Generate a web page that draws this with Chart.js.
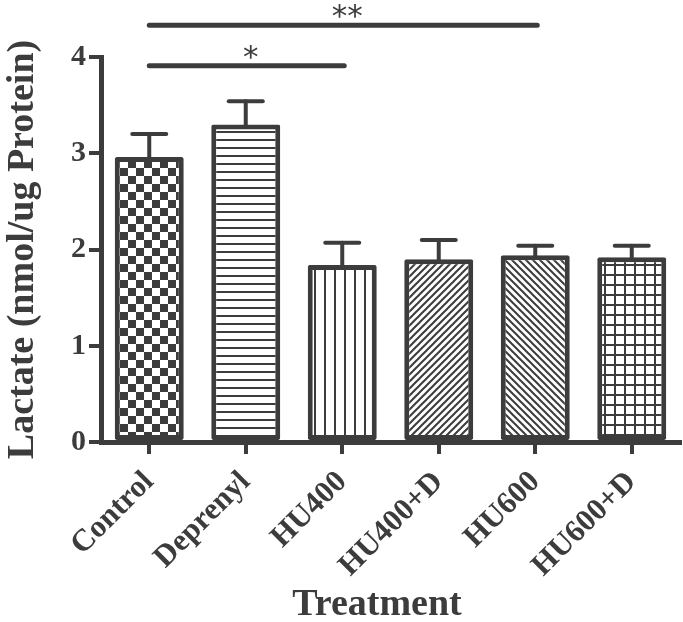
<!DOCTYPE html>
<html><head><meta charset="utf-8">
<script src="https://cdn.jsdelivr.net/npm/chart.js@4.4.0/dist/chart.umd.min.js"></script>
<style>html,body{margin:0;padding:0;background:#fff}canvas{display:block}</style>
</head><body><canvas id="c" width="683" height="622"></canvas>
<script>
// ---- data ----
const categories = ['Control', 'Deprenyl', 'HU400', 'HU400+D', 'HU600', 'HU600+D'];
const means = [2.96, 3.30, 1.84, 1.90, 1.94, 1.92];
const sem = [0.24, 0.24, 0.23, 0.20, 0.10, 0.12];
const yTicks = [0, 1, 2, 3, 4];
const sigFrom = [0, 0];
const sigTo = [2, 4];
const sigLevel = [3.91, 4.33];
const sigLabel = ['*', '**'];
const patternKinds = ['checker', 'hlines', 'vlines', 'diagUp', 'diagDown', 'grid'];
const xTitle = 'Treatment';
const yTitle = 'Lactate (nmol/ug Protein)';

const INK = '#3c3c3c';
const SERIF = '"Liberation Serif", "Times New Roman", serif';

const mainCanvas = document.getElementById('c');
const mainCtx = mainCanvas.getContext('2d');

function makePattern(kind) {
  const t = document.createElement('canvas');
  let s = 8;
  if (kind === 'checker') s = 16;
  if (kind === 'vlines' || kind === 'grid') s = 10;
  if (kind === 'diagUp' || kind === 'diagDown') s = 7;
  t.width = s; t.height = s;
  const c = t.getContext('2d');
  c.fillStyle = '#fff'; c.fillRect(0, 0, s, s);
  c.fillStyle = INK; c.strokeStyle = INK;
  if (kind === 'checker') { c.fillRect(0, 0, 8, 8); c.fillRect(8, 8, 8, 8); }
  if (kind === 'hlines') { c.fillRect(0, 3, 8, 2); }
  if (kind === 'vlines') { c.fillRect(4, 0, 2, 10); }
  if (kind === 'grid') { c.fillRect(4, 0, 2, 10); c.fillRect(0, 4, 10, 2); }
  if (kind === 'diagUp' || kind === 'diagDown') {
    c.lineWidth = 2;
    const segs = [[-1, s + 1, s + 1, -1], [-1, 1, 1, -1], [s - 1, s + 1, s + 1, s - 1]];
    segs.forEach(([x1, y1, x2, y2]) => {
      c.beginPath();
      if (kind === 'diagUp') { c.moveTo(x1, y1); c.lineTo(x2, y2); }
      else { c.moveTo(s - x1, y1); c.lineTo(s - x2, y2); }
      c.stroke();
    });
  }
  return mainCtx.createPattern(t, 'repeat');
}
const fills = patternKinds.map(makePattern);

const annot = {
  id: 'annot',
  afterDatasetsDraw(chart) {
    const { ctx, scales: { x, y } } = chart;
    ctx.save();
    ctx.strokeStyle = INK; ctx.fillStyle = INK; ctx.lineCap = 'round';
    means.forEach((m, i) => {
      const px = x.getPixelForValue(i);
      const top = y.getPixelForValue(m);
      const cap = y.getPixelForValue(m + sem[i]);
      ctx.lineWidth = 4;
      ctx.beginPath(); ctx.moveTo(px, top); ctx.lineTo(px, cap); ctx.stroke();
      ctx.beginPath(); ctx.moveTo(px - 17, cap); ctx.lineTo(px + 17, cap); ctx.stroke();
    });
    sigLevel.forEach((lv, k) => {
      const x1 = x.getPixelForValue(sigFrom[k]);
      const x2 = x.getPixelForValue(sigTo[k]);
      const py = y.getPixelForValue(lv);
      ctx.lineWidth = 5;
      ctx.beginPath(); ctx.moveTo(x1, py); ctx.lineTo(x2 + 2, py); ctx.stroke();
      ctx.font = '31px "DejaVu Sans"';
      ctx.textAlign = 'center'; ctx.textBaseline = 'alphabetic';
      ctx.fillText(sigLabel[k], (x1 + x2) / 2 + 5, py + 1);
    });
    // x-axis title
    ctx.font = 'bold 38px ' + SERIF;
    ctx.textAlign = 'center'; ctx.textBaseline = 'alphabetic';
    ctx.fillText(xTitle, 377, 615);
    ctx.restore();
  }
};

new Chart(mainCtx, {
  type: 'bar',
  data: {
    labels: categories,
    datasets: [{
      data: means,
      backgroundColor: fills,
      borderColor: INK,
      borderWidth: 5,
      borderSkipped: false,
      borderRadius: 2,
      barPercentage: 0.715,
      categoryPercentage: 1
    }]
  },
  options: {
    responsive: false,
    animation: false,
    layout: { padding: { top: 57, right: 3, left: 0, bottom: 0 } },
    plugins: { legend: { display: false }, tooltip: { enabled: false } },
    scales: {
      x: {
        offset: true,
        grid: { display: true, offset: false, drawOnChartArea: false, drawTicks: true, tickLength: 12, lineWidth: 4, color: INK },
        border: { display: true, width: 5, color: INK },
        ticks: { color: INK, font: { family: SERIF, weight: 'bold', size: 31 }, maxRotation: 45, minRotation: 45, padding: 10, autoSkip: false },
        title: { display: false },
        afterFit(s) { s.height = 180; }
      },
      y: {
        min: 0, max: 4,
        afterBuildTicks(s) { s.ticks = yTicks.map(v => ({ value: v })); },
        grid: { drawOnChartArea: false, drawTicks: true, tickLength: 12, lineWidth: 4, color: INK },
        border: { display: true, width: 5, color: INK },
        ticks: { color: INK, font: { family: SERIF, weight: 'bold', size: 30 }, padding: 3 },
        title: { display: true, text: yTitle, color: INK, font: { family: SERIF, weight: 'bold', size: 38 }, padding: { top: 0, bottom: 0 } },
        afterFit(s) { s.width = 101; }
      }
    }
  },
  plugins: [annot]
});
</script>
</body></html>
